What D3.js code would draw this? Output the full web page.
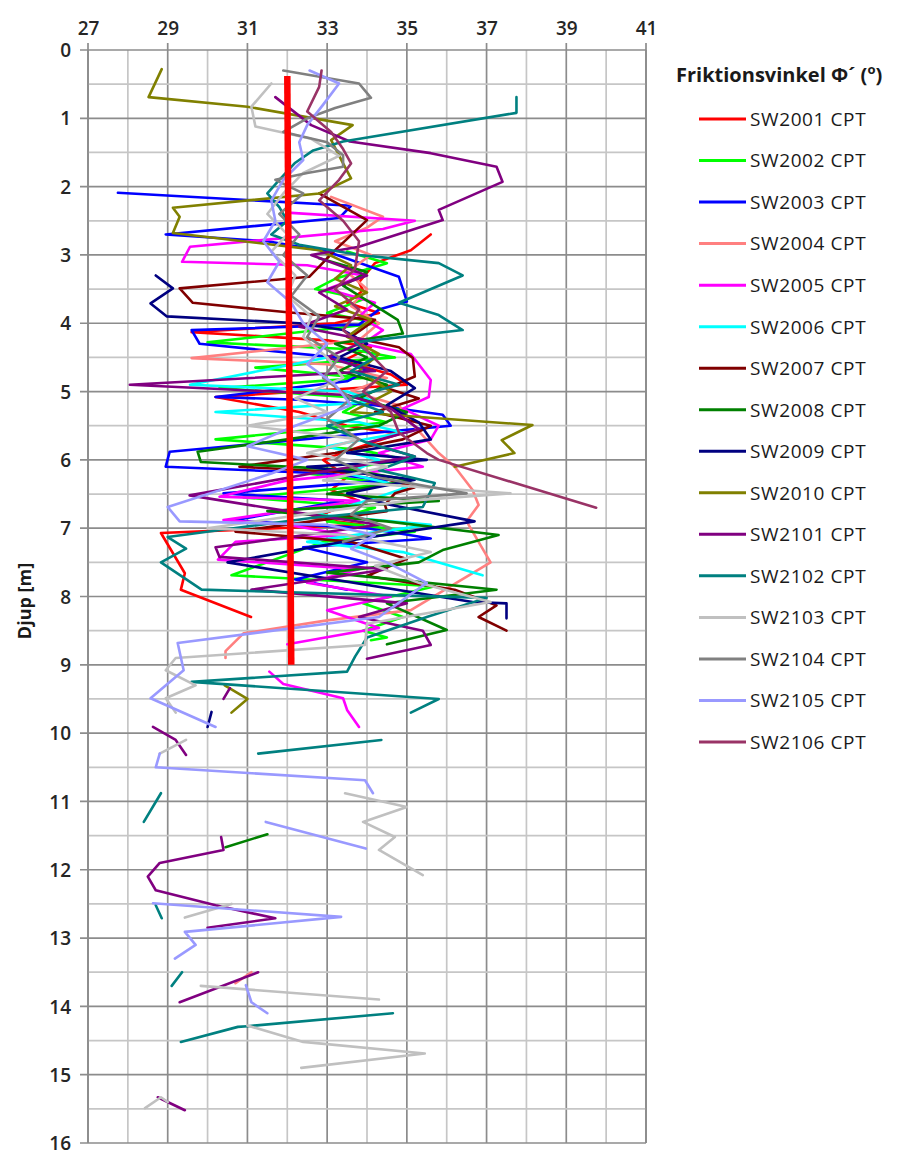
<!DOCTYPE html>
<html>
<head>
<meta charset="utf-8">
<script src="https://cdn.jsdelivr.net/npm/d3@7"></script>
<style>
  html, body { margin: 0; padding: 0; background: #fff; }
  svg { display: block; }
</style>
</head>
<body>
<svg id="chart" width="902" height="1156"></svg>
<script>
// Friction angle (phi', degrees) against depth (m) for each CPT sounding.
// Each point is [phi, depth]; null splits a sounding into separate pieces.
const xTicks = [27, 29, 31, 33, 35, 37, 39, 41];
const yTicks = [0, 1, 2, 3, 4, 5, 6, 7, 8, 9, 10, 11, 12, 13, 14, 15, 16];
const seriesNames = ["SW2001 CPT", "SW2002 CPT", "SW2003 CPT", "SW2004 CPT", "SW2005 CPT", "SW2006 CPT",
  "SW2007 CPT", "SW2008 CPT", "SW2009 CPT", "SW2010 CPT", "SW2101 CPT", "SW2102 CPT",
  "SW2103 CPT", "SW2104 CPT", "SW2105 CPT", "SW2106 CPT"];
const seriesColors = ["#FF0000", "#00FF00", "#0000FF", "#FF8080", "#FF00FF", "#00FFFF",
  "#800000", "#008000", "#000080", "#808000", "#800080", "#008080",
  "#C0C0C0", "#808080", "#9999FF", "#993366"];

const sw2001 = [[35.6,2.7],[35.1,2.93],[34.2,3.12],[33.8,3.4],[33.9,3.52],[33.5,3.7],[34.3,3.85],[33.2,4.0],
  [29.6,4.13],[33.0,4.25],[34.1,4.35],[33.4,4.55],[34.6,4.75],[35.0,4.9],[30.2,5.08],[32.3,5.3],[33.5,5.5],
  [34.8,5.62],[33.6,5.85],[32.9,6.0],[33.5,6.25],[33.1,6.44],[33.8,6.6],[32.6,6.85],[33.9,6.95],[28.83,7.07],
  [29.43,7.66],[29.33,7.9],[31.09,8.3]];
const sw2002 = [[33.5,2.95],[34.5,3.12],[33.2,3.35],[32.7,3.5],[33.9,3.65],[33.0,3.85],[34.3,4.0],[30.0,4.28],
  [33.6,4.38],[34.7,4.5],[31.2,4.65],[33.9,4.8],[30.3,4.95],[34.0,5.1],[33.4,5.3],[34.5,5.45],[30.2,5.7],
  [33.8,5.85],[35.0,6.0],[32.5,6.2],[34.6,6.35],[30.9,6.55],[34.2,6.7],[33.0,6.9],[35.2,7.05],[32.9,7.2],
  [30.6,7.69],[35.7,7.85],[33.9,8.1],[34.9,8.3],[33.9,8.5],[34.5,8.6],[34.1,8.64]];
const sw2003 = [[27.75,2.09],[33.6,2.28],[33.3,2.46],[28.95,2.7],[31.5,2.8],[33.0,2.95],[34.8,3.32],[35.0,3.68],
  [34.3,3.8],[33.8,4.02],[29.6,4.1],[29.8,4.3],[33.2,4.5],[34.0,4.7],[33.5,4.85],[30.2,5.08],[32.3,5.12],
  [34.2,5.2],[35.9,5.34],[36.1,5.5],[29.05,5.88],[28.95,6.1],[33.0,6.2],[34.5,6.3],[30.4,6.49],[33.4,6.6],
  [30.6,6.89],[34.0,7.0],[35.6,7.15],[32.4,7.28],[34.0,7.5],[32.2,7.75],[33.5,7.9]];
const sw2004 = [[33.1,2.15],[34.4,2.44],[34.0,2.6],[33.2,2.8],[34.1,3.0],[33.5,3.25],[34.0,3.5],[33.6,3.75],
  [34.3,4.0],[33.8,4.25],[29.6,4.51],[33.0,4.6],[34.5,4.8],[33.6,5.0],[34.8,5.2],[35.1,5.45],[35.8,5.9],
  [36.2,6.1],[36.65,6.44],[36.8,6.66],[36.5,6.9],[37.1,7.5],[35.1,8.2],[33.0,8.35],[30.9,8.54],[30.45,8.8],
  [30.45,8.9], null, [31.1,13.5],[30.7,13.66]];
const sw2005 = [[32.0,2.38],[35.2,2.5],[34.4,2.62],[29.56,2.88],[29.36,3.1],[32.5,3.15],[33.9,3.3],[33.0,3.5],
  [34.2,3.7],[33.8,3.9],[34.4,4.1],[33.9,4.3],[35.1,4.45],[35.6,4.83],[35.55,5.08],[34.9,5.25],[35.8,5.5],
  [35.6,5.7],[34.3,5.9],[35.4,6.1],[32.0,6.3],[30.3,6.54],[33.8,6.6],[30.4,6.88],[32.0,6.95],[33.5,7.1],
  [30.7,7.2],[30.26,7.46],[33.8,7.6],[32.5,7.8],[34.6,8.0],[33.0,8.2],[34.3,8.46],[32.0,8.7], null,
  [31.55,9.1],[31.9,9.28],[33.4,9.49],[33.5,9.66],[33.8,9.91]];
const sw2006 = [[33.0,4.5],[29.56,4.9],[33.5,5.0],[34.2,5.15],[30.2,5.3],[33.8,5.45],[34.9,5.6],[33.0,5.8],
  [34.3,6.0],[33.5,6.2],[35.0,6.4],[34.0,6.6],[32.7,6.8],[35.6,6.95],[34.3,7.05],[32.5,7.2],[34.9,7.35],
  [36.9,7.69]];
const sw2007 = [[32.8,2.1],[34.0,2.49],[33.2,2.93],[32.55,3.32],[29.3,3.49],[29.63,3.7],[32.0,3.84],[34.2,3.95],
  [33.6,4.2],[34.8,4.35],[35.15,4.51],[35.2,4.78],[34.5,4.95],[35.3,5.1],[34.2,5.3],[35.6,5.5],[34.9,5.7],
  [33.2,5.9],[30.8,6.1],[34.0,6.2],[35.2,6.4],[34.7,6.49],[34.45,6.66],[34.5,6.75],[30.7,7.05],[33.6,7.2],
  [35.0,7.45],[34.0,7.7],[36.2,7.9],[37.25,8.13],[36.8,8.3],[37.5,8.5]];
const sw2008 = [[32.8,3.05],[34.0,3.25],[33.4,3.45],[34.77,3.95],[34.9,4.15],[33.2,4.3],[34.0,4.5],[33.3,4.7],
  [34.5,4.9],[33.8,5.1],[35.0,5.3],[34.3,5.5],[32.0,5.7],[29.75,5.88],[29.83,6.03],[33.6,6.15],[35.1,6.3],
  [33.0,6.5],[35.8,6.6],[31.5,6.75],[34.5,6.9],[37.3,7.1],[35.9,7.32],[35.3,7.5],[33.0,7.65],[37.25,7.9],
  [34.5,8.1],[36.0,8.49],[34.5,8.7], null, [30.45,11.67],[31.5,11.48]];
const sw2009 = [[28.7,3.3],[29.13,3.49],[28.57,3.71],[28.98,3.9],[32.3,4.0],[33.4,4.1],[34.0,4.3],[33.3,4.5],
  [34.6,4.7],[35.2,4.95],[34.5,5.2],[35.3,5.45],[35.6,5.7],[33.5,5.9],[35.5,6.0],[32.5,6.1],[35.2,6.29],
  [33.5,6.49],[34.6,6.66],[36.7,6.9],[34.1,7.13],[32.4,7.3],[30.5,7.5],[36.65,8.08],[37.5,8.1],[37.5,8.32],
  null, [30.1,9.69],[30.0,9.91]];
const sw2010 = [[28.85,0.28],[28.52,0.69],[31.0,0.83],[33.64,1.1],[33.1,1.32],[33.4,1.66],[33.6,1.88],[32.8,2.1],
  [29.13,2.31],[29.3,2.44],[29.13,2.68],[32.8,2.93],[33.6,3.15],[33.2,3.35],[34.0,3.55],[33.2,3.75],[34.1,3.95],
  [33.5,4.2],[34.3,4.45],[33.8,4.7],[34.6,5.0],[33.6,5.3],[38.15,5.49],[37.38,5.71],[37.7,5.9],[36.2,6.1],
  null, [30.43,9.3],[31.0,9.5],[30.6,9.7]];
const sw2101 = [[31.7,0.69],[32.6,1.1],[33.57,1.34],[35.6,1.51],[37.25,1.71],[37.4,1.93],[35.8,2.34],[35.9,2.49],
  [33.8,2.88],[32.6,3.0],[34.0,3.3],[32.8,3.55],[33.5,3.8],[32.3,4.05],[34.0,4.25],[33.0,4.5],[34.2,4.7],
  [28.05,4.9],[33.5,5.05],[34.6,5.25],[35.3,5.55],[34.0,5.75],[35.2,5.95],[32.6,6.2],[29.55,6.52],[32.0,6.75],
  [34.3,6.95],[30.2,7.28],[30.3,7.42],[34.5,7.6],[31.1,7.9],[35.0,8.1],[33.8,8.3],[35.4,8.5],[35.6,8.71],
  [34.0,8.91], null, [30.56,9.34],[30.4,9.5], null, [28.63,9.91],[29.2,10.1],[29.46,10.32], null,
  [30.34,11.52],[30.4,11.71],[28.8,11.9],[28.5,12.1],[28.7,12.3],[30.2,12.52],[31.7,12.71],[30.0,12.85], null,
  [31.27,13.5],[29.3,13.94], null, [28.75,15.33],[29.43,15.52]];
const sw2102 = [[37.75,0.69],[37.75,0.92],[33.4,1.34],[32.65,1.47],[32.2,1.65],[31.8,1.9],[31.5,2.1],[31.8,2.3],
  [32.0,2.5],[31.6,2.7],[32.3,2.85],[33.8,3.0],[35.8,3.12],[36.4,3.3],[34.8,3.7],[35.8,3.88],[36.4,4.1],
  [33.7,4.28],[34.2,4.5],[33.6,4.7],[34.8,4.9],[33.5,5.1],[34.4,5.3],[33.0,5.5],[34.0,5.75],[35.2,5.95],
  [34.3,6.15],[35.7,6.34],[35.4,6.69],[32.6,6.85],[29.0,7.13],[29.46,7.3],[28.83,7.5],[29.85,7.9],[37.0,8.02],
  [35.5,8.3],[34.0,8.6],[33.7,8.88],[33.5,9.1],[29.6,9.25],[35.8,9.5],[35.1,9.7], null,
  [31.27,10.3],[34.36,10.1], null, [28.83,10.88],[28.4,11.3], null, [28.7,12.52],[28.85,12.71], null,
  [29.36,13.5],[29.1,13.7], null, [29.33,14.52],[30.76,14.3],[31.0,14.29],[34.65,14.1]];
const sw2103 = [[31.6,0.49],[31.1,0.83],[31.2,1.12],[32.6,1.3],[33.3,1.55],[32.4,1.8],[31.9,2.1],[31.5,2.4],
  [32.0,2.7],[31.6,2.95],[32.2,3.3],[32.0,3.6],[32.6,3.9],[32.4,4.2],[33.0,4.5],[33.4,4.8],[32.2,5.1],
  [33.0,5.3],[31.0,5.5],[33.8,5.7],[32.5,5.9],[34.5,6.1],[32.9,6.3],[37.6,6.49],[35.0,6.6],[33.0,6.75],
  [30.0,7.0],[33.5,7.1],[35.6,7.35],[34.2,7.55],[35.3,7.8],[37.1,8.08],[34.0,8.4],[33.95,8.71],[29.2,8.9],
  [28.95,9.08],[29.7,9.3],[28.95,9.49],[29.2,9.7], null, [29.46,10.1],[28.8,10.3], null,
  [33.45,10.88],[35.0,11.08],[33.9,11.3],[34.7,11.52],[34.3,11.71],[35.4,12.08], null,
  [30.6,12.5],[29.43,12.7], null, [29.83,13.7],[34.3,13.9], null,
  [31.0,14.28],[32.4,14.52],[35.45,14.69],[32.35,14.9], null, [28.43,15.49],[28.83,15.33],[29.0,15.4]];
const sw2104 = [[31.9,0.3],[33.8,0.49],[34.1,0.7],[33.2,0.85],[32.5,1.0],[31.9,1.2],[33.0,1.35],[33.4,1.54],
  [33.4,1.71],[32.5,1.8],[31.7,1.9],[32.4,2.1],[31.8,2.4],[32.3,2.7],[31.9,3.0],[32.5,3.3],[32.1,3.6],
  [32.8,3.9],[32.5,4.2],[33.3,4.5],[32.9,4.8],[33.6,5.1],[33.0,5.4],[33.8,5.7],[33.2,6.0],[34.2,6.25],
  [36.5,6.49],[34.0,6.6],[33.6,6.8],[34.6,7.0],[33.4,7.2]];
const sw2105 = [[32.56,0.3],[33.3,0.49],[32.9,0.8],[32.5,1.1],[32.3,1.35],[32.4,1.61],[31.9,1.9],[31.6,2.2],
  [31.7,2.5],[31.4,2.8],[31.8,3.1],[31.5,3.4],[32.1,3.7],[32.4,4.0],[33.0,4.3],[32.5,4.6],[33.2,4.9],
  [33.6,5.2],[32.2,5.5],[31.0,5.8],[32.5,6.0],[31.6,6.2],[29.0,6.69],[29.3,6.9],[33.0,6.95],[34.2,7.1],
  [33.6,7.3],[34.5,7.5],[35.5,7.8],[34.3,8.3],[29.25,8.68],[29.4,9.08],[28.57,9.49],[30.2,9.91], null,
  [28.8,10.3],[28.7,10.5],[33.95,10.69],[34.15,10.88], null, [31.46,11.3],[33.97,11.69], null,
  [28.63,12.49],[33.35,12.69],[29.43,12.91],[29.7,13.1],[29.18,13.3], null,
  [30.96,13.69],[31.1,13.94],[31.5,14.1]];
const sw2106 = [[32.86,0.3],[32.8,0.54],[32.5,0.9],[33.1,1.2],[33.4,1.45],[33.6,1.66],[33.3,1.9],[32.8,2.2],
  [33.4,2.5],[33.8,2.8],[33.7,3.2],[33.2,3.5],[33.8,3.8],[33.4,4.1],[34.0,4.4],[34.5,4.7],[33.9,5.0],
  [34.6,5.3],[34.8,5.6],[35.5,5.9],[35.8,6.0],[39.75,6.7]];

// Characteristic friction angle drawn as a thick line across the sounded depth
const characteristicLine = [[32.0, 0.38], [32.1, 9.0]];

const allSeries = [sw2001, sw2002, sw2003, sw2004, sw2005, sw2006, sw2007, sw2008,
  sw2009, sw2010, sw2101, sw2102, sw2103, sw2104, sw2105, sw2106];

const svg = d3.select("#chart");
const plotLeft = 88, plotRight = 646, plotTop = 50, plotBottom = 1143;
const x = d3.scaleLinear().domain([27, 41]).range([plotLeft, plotRight]);
const y = d3.scaleLinear().domain([0, 16]).range([plotTop, plotBottom]);
const font = "'Open Sans', 'Noto Sans', sans-serif";

// Grid: light lines every 1 deg / 0.5 m, darker at labelled values
const grid = svg.append("g");
d3.range(27, 41.001, 1).forEach(v => {
  const major = xTicks.includes(v);
  grid.append("line")
    .attr("x1", x(v)).attr("x2", x(v))
    .attr("y1", major ? plotTop - 7 : plotTop).attr("y2", plotBottom)
    .attr("stroke", major ? "#8c8c8c" : "#c6c6c6").attr("stroke-width", 1.7);
});
d3.range(0, 16.001, 0.5).forEach(v => {
  const major = Number.isInteger(v);
  grid.append("line")
    .attr("x1", major ? plotLeft - 8 : plotLeft).attr("x2", plotRight)
    .attr("y1", y(v)).attr("y2", y(v))
    .attr("stroke", major ? "#8c8c8c" : "#c6c6c6").attr("stroke-width", 1.7);
});
grid.append("line").attr("x1", plotLeft).attr("x2", plotLeft).attr("y1", plotTop).attr("y2", plotBottom)
  .attr("stroke", "#8c8c8c").attr("stroke-width", 1.7);
grid.append("line").attr("x1", plotRight).attr("x2", plotRight).attr("y1", plotTop).attr("y2", plotBottom)
  .attr("stroke", "#8c8c8c").attr("stroke-width", 1.7);

// Axes (labels only; the grid carries the tick lines)
const xAxis = svg.append("g").attr("transform", `translate(0,${plotTop - 7})`)
  .call(d3.axisTop(x).tickValues(xTicks).tickSize(0).tickPadding(8));
const yAxis = svg.append("g").attr("transform", `translate(${plotLeft - 8},0)`)
  .call(d3.axisLeft(y).tickValues(yTicks).tickSize(0).tickPadding(9));
[xAxis, yAxis].forEach(a => {
  a.select(".domain").remove();
  a.selectAll("text").attr("font-family", font).attr("font-size", 19)
    .attr("font-weight", 600).attr("fill", "#262626");
});
yAxis.selectAll("text").attr("dy", "0.35em");

svg.append("text")
  .attr("transform", "translate(31,601) rotate(-90)")
  .attr("text-anchor", "middle")
  .attr("font-family", font).attr("font-size", 18).attr("font-weight", 700)
  .attr("fill", "#1a1a1a").text("Djup [m]");

// Data lines
const line = d3.line()
  .defined(d => d !== null)
  .x(d => x(d[0]))
  .y(d => y(d[1]));

const plot = svg.append("g");
allSeries.forEach((s, i) => {
  plot.append("path")
    .datum(s)
    .attr("d", line)
    .attr("fill", "none")
    .attr("stroke", seriesColors[i])
    .attr("stroke-width", 2.6)
    .attr("stroke-linejoin", "round")
    .attr("stroke-linecap", "round");
});
plot.append("path")
  .datum(characteristicLine)
  .attr("d", line)
  .attr("fill", "none")
  .attr("stroke", "#FF0000")
  .attr("stroke-width", 6.5);

// Legend
const legend = svg.append("g");
const title = legend.append("text")
  .attr("x", 676).attr("y", 82)
  .attr("font-family", font).attr("font-size", 20).attr("font-weight", 700)
  .attr("fill", "#1a1a1a");
title.append("tspan").text("Friktionsvinkel Φ´ (");
title.append("tspan").attr("font-size", 13).attr("dy", -8).text("o");
title.append("tspan").attr("dy", 8).text(")");

const legendY = d3.scalePoint().domain(seriesNames).range([119, 742]);
seriesNames.forEach((name, i) => {
  const yy = legendY(name);
  legend.append("line")
    .attr("x1", 699).attr("x2", 746).attr("y1", yy).attr("y2", yy)
    .attr("stroke", seriesColors[i]).attr("stroke-width", 3);
  legend.append("text")
    .attr("x", 750).attr("y", yy).attr("dy", "0.36em")
    .attr("font-family", font).attr("font-size", 19).attr("letter-spacing", 0.6)
    .attr("fill", "#1a1a1a").text(name);
});
</script>
</body>
</html>
